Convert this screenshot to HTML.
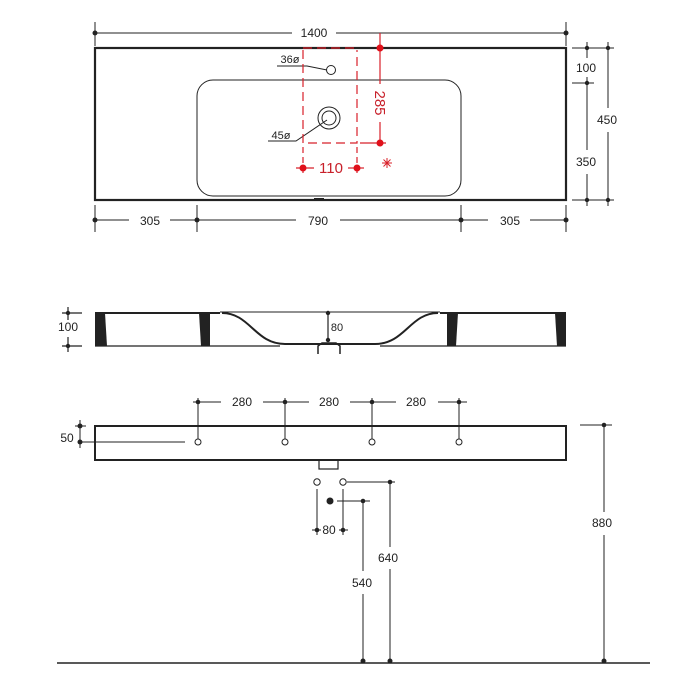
<!DOCTYPE html>
<html><head><meta charset="utf-8"><style>
html,body{margin:0;padding:0;background:#fff;}
svg{display:block;font-family:"Liberation Sans",sans-serif;}
</style></head><body>
<svg width="700" height="700" viewBox="0 0 700 700" xmlns="http://www.w3.org/2000/svg">
<g fill="#222" font-size="12" text-anchor="middle">
<!-- TOP VIEW -->
<g stroke="#222" stroke-width="1" fill="none">
<line x1="95" y1="33" x2="292" y2="33"/><line x1="336" y1="33" x2="566" y2="33"/>
<line x1="95" y1="22" x2="95" y2="46"/><line x1="566" y1="22" x2="566" y2="46"/>
<rect x="95" y="48" width="471" height="152" stroke-width="2.2"/>
<rect x="197" y="80" width="264" height="116" rx="16"/>
<line x1="314" y1="199" x2="324" y2="199" stroke-width="2"/>
<!-- bottom dims -->
<line x1="95" y1="220" x2="129" y2="220"/><line x1="170" y1="220" x2="296" y2="220"/><line x1="340" y1="220" x2="488" y2="220"/><line x1="530" y1="220" x2="566" y2="220"/>
<line x1="95" y1="205" x2="95" y2="232"/><line x1="197" y1="205" x2="197" y2="232"/><line x1="461" y1="205" x2="461" y2="232"/><line x1="566" y1="205" x2="566" y2="232"/>
<!-- right dims -->
<line x1="572" y1="48" x2="614" y2="48"/><line x1="572" y1="83" x2="594" y2="83"/><line x1="572" y1="200" x2="614" y2="200"/>
<line x1="587" y1="42" x2="587" y2="58"/><line x1="587" y1="77" x2="587" y2="150"/><line x1="587" y1="174" x2="587" y2="206"/>
<line x1="608" y1="42" x2="608" y2="108"/><line x1="608" y1="132" x2="608" y2="206"/>
<!-- holes -->
<circle cx="331" cy="70" r="4.5"/>
<circle cx="329" cy="118" r="11"/><circle cx="329" cy="118" r="7"/>
<polyline points="277,66 307,66 327,70"/>
<polyline points="268,141 296,141 327,120"/>
</g>
<g fill="#222">
<circle cx="95" cy="33" r="2.5"/><circle cx="566" cy="33" r="2.5"/>
<circle cx="95" cy="220" r="2.5"/><circle cx="197" cy="220" r="2.5"/><circle cx="461" cy="220" r="2.5"/><circle cx="566" cy="220" r="2.5"/>
<circle cx="587" cy="48" r="2.2"/><circle cx="587" cy="83" r="2.2"/><circle cx="587" cy="200" r="2.2"/><circle cx="608" cy="48" r="2.2"/><circle cx="608" cy="200" r="2.2"/>
</g>
<text x="314" y="37">1400</text>
<text x="150" y="225">305</text><text x="318" y="225">790</text><text x="510" y="225">305</text>
<text x="586" y="72">100</text><text x="607" y="124">450</text><text x="586" y="166">350</text>
<text x="290" y="63" font-size="11">36ø</text><text x="281" y="139" font-size="11">45ø</text>
<!-- red -->
<g stroke="#d8202a" stroke-width="1.2" fill="none">
<polyline points="303,50 303,143 357,143 357,50" stroke-dasharray="9,5"/>
<line x1="303" y1="48" x2="357" y2="48" stroke-dasharray="9,5"/>
<line x1="303" y1="147" x2="303" y2="176" stroke-dasharray="6,4"/>
<line x1="357" y1="147" x2="357" y2="176" stroke-dasharray="6,4"/>
<line x1="380" y1="33" x2="380" y2="84"/><line x1="380" y1="122" x2="380" y2="143"/>
<line x1="360" y1="143" x2="386" y2="143"/>
<line x1="296" y1="168" x2="314" y2="168"/><line x1="348" y1="168" x2="364" y2="168"/>
<g stroke-width="1"><line x1="382" y1="163" x2="392" y2="163"/><line x1="387" y1="158" x2="387" y2="168"/><line x1="383.5" y1="159.5" x2="390.5" y2="166.5"/><line x1="390.5" y1="159.5" x2="383.5" y2="166.5"/></g>
</g>
<g fill="#e0101a"><circle cx="380" cy="48" r="3.5"/><circle cx="380" cy="143" r="3.5"/><circle cx="303" cy="168" r="3.5"/><circle cx="357" cy="168" r="3.5"/></g>
<text x="331" y="173" fill="#c8202a" font-size="15">110</text>
<text x="0" y="0" fill="#c8202a" font-size="15" transform="translate(375,103) rotate(90)">285</text>

<!-- SIDE VIEW -->
<g stroke="#222" fill="none" stroke-width="1.2">
<line x1="95" y1="313" x2="220" y2="313" stroke-width="2"/><line x1="440" y1="313" x2="566" y2="313" stroke-width="2"/>
<line x1="220" y1="312" x2="440" y2="312" stroke-width="1"/>
<line x1="95" y1="346" x2="280" y2="346"/><line x1="380" y1="346" x2="566" y2="346"/>
<path d="M222,313 C250,313 255,344 285,344 L375,344 C405,344 410,313 438,313" stroke-width="2"/>
<line x1="328" y1="313" x2="328" y2="340"/>
<path d="M318,354 L318,346 L322,343 L336,343 L340,346 L340,354" stroke-width="1.5"/>
<line x1="68" y1="307" x2="68" y2="320"/><line x1="68" y1="337" x2="68" y2="352"/>
<line x1="62" y1="313" x2="82" y2="313"/><line x1="62" y1="346" x2="82" y2="346"/>
</g>
<g fill="#222">
<polygon points="95,313 105,313 107,346 95,346"/>
<polygon points="199,313 210,313 210,346 201,346"/>
<polygon points="447,313 458,313 456,346 447,346"/>
<polygon points="555,313 566,313 566,346 557,346"/>
<circle cx="328" cy="313" r="2.2"/><circle cx="328" cy="340" r="2.2"/>
<circle cx="68" cy="313" r="2.2"/><circle cx="68" cy="346" r="2.2"/>
</g>
<text x="337" y="331" font-size="11">80</text>
<text x="68" y="331">100</text>

<!-- FRONT VIEW -->
<g stroke="#222" fill="none" stroke-width="1">
<rect x="95" y="426" width="471" height="34" stroke-width="2"/>
<rect x="319" y="460" width="19" height="9" stroke-width="1.2"/>
<line x1="193" y1="402" x2="221" y2="402"/><line x1="263" y1="402" x2="309" y2="402"/><line x1="350" y1="402" x2="396" y2="402"/><line x1="438" y1="402" x2="467" y2="402"/>
<line x1="198" y1="398" x2="198" y2="439"/><line x1="285" y1="398" x2="285" y2="439"/><line x1="372" y1="398" x2="372" y2="439"/><line x1="459" y1="398" x2="459" y2="439"/>
<circle cx="198" cy="442" r="3"/><circle cx="285" cy="442" r="3"/><circle cx="372" cy="442" r="3"/><circle cx="459" cy="442" r="3"/>
<line x1="80" y1="420" x2="80" y2="448"/><line x1="75" y1="426" x2="86" y2="426"/><line x1="80" y1="442" x2="185" y2="442"/>
<!-- below -->
<circle cx="317" cy="482" r="3.2"/><circle cx="343" cy="482" r="3.2"/>
<line x1="347" y1="482" x2="395" y2="482"/><line x1="337" y1="501" x2="370" y2="501"/>
<line x1="317" y1="489" x2="317" y2="535"/><line x1="343" y1="489" x2="343" y2="535"/>
<line x1="312" y1="530" x2="321" y2="530"/><line x1="339" y1="530" x2="348" y2="530"/>
<line x1="363" y1="501" x2="363" y2="571"/><line x1="363" y1="594" x2="363" y2="662"/>
<line x1="390" y1="482" x2="390" y2="547"/><line x1="390" y1="569" x2="390" y2="662"/>
<line x1="580" y1="425" x2="612" y2="425"/>
<line x1="604" y1="425" x2="604" y2="512"/><line x1="604" y1="535" x2="604" y2="662"/>
<line x1="57" y1="663" x2="650" y2="663" stroke-width="1.5"/>
</g>
<g fill="#222">
<circle cx="198" cy="402" r="2.3"/><circle cx="285" cy="402" r="2.3"/><circle cx="372" cy="402" r="2.3"/><circle cx="459" cy="402" r="2.3"/>
<circle cx="80" cy="426" r="2.5"/><circle cx="80" cy="442" r="2.5"/>
<circle cx="330" cy="501" r="3.5"/>
<circle cx="390" cy="482" r="2.3"/><circle cx="363" cy="501" r="2.3"/>
<circle cx="317" cy="530" r="2.3"/><circle cx="343" cy="530" r="2.3"/>
<circle cx="604" cy="425" r="2.3"/>
<circle cx="363" cy="661" r="2.5"/><circle cx="390" cy="661" r="2.5"/><circle cx="604" cy="661" r="2.5"/>
</g>
<text x="242" y="406">280</text><text x="329" y="406">280</text><text x="416" y="406">280</text>
<text x="67" y="442">50</text>
<text x="329" y="534">80</text>
<text x="388" y="562">640</text><text x="362" y="587">540</text><text x="602" y="527">880</text>
</g>
</svg>
</body></html>
